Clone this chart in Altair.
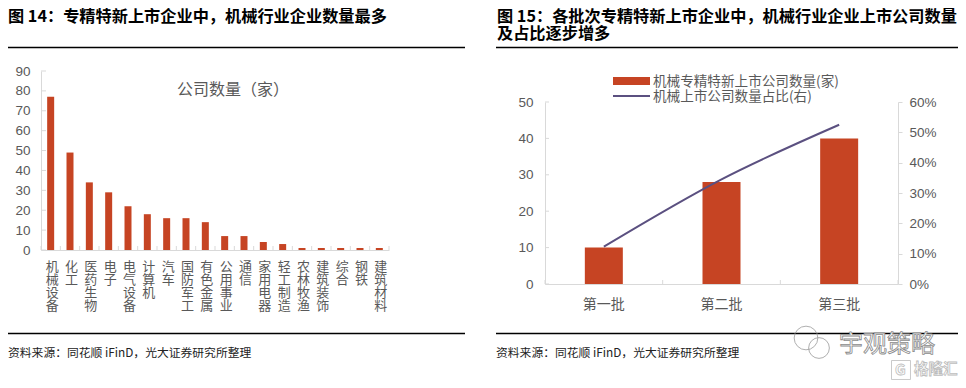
import altair as alt
import pandas as pd

FONT = "Liberation Sans, Noto Sans CJK SC, sans-serif"
CJK = "Noto Sans CJK SC, sans-serif"
GREY = "#595959"
AXIS = "#D9D9D9"
RED = "#C64423"
PURPLE = "#5B5080"

industries = ["机械设备", "化工", "医药生物", "电子", "电气设备", "计算机", "汽车", "国防军工", "有色金属",
              "公用事业", "通信", "家用电器", "轻工制造", "农林牧渔", "建筑装饰", "综合", "钢铁", "建筑材料"]
counts = [77, 49, 34, 29, 22, 18, 16, 16, 14, 7, 7, 4, 3, 1, 1, 1, 1, 1]
left_ticks = [0, 10, 20, 30, 40, 50, 60, 70, 80, 90]

batches = ["第一批", "第二批", "第三批"]
batch_counts = [10, 28, 40]
batch_share = [0.123, 0.345, 0.525]
right_ticks = [0, 10, 20, 30, 40, 50]
share_ticks = [0, 0.1, 0.2, 0.3, 0.4, 0.5, 0.6]

W, H = 950, 372
LX = [33, 381]
LY = [242, 63]
RX = [537, 890]
RY = [276, 94]

lx = alt.Scale(domain=industries, range=LX, paddingInner=0, paddingOuter=0)
ly = alt.Scale(domain=[0, 90], range=LY, nice=False)
lq = alt.Scale(domain=[0, len(industries)], range=LX)
rx = alt.Scale(domain=batches, range=RX, paddingInner=0, paddingOuter=0)
ry = alt.Scale(domain=[0, 50], range=RY, nice=False)
rs = alt.Scale(domain=[0, 0.6], range=RY, nice=False)
rq = alt.Scale(domain=[0, len(batches)], range=RX)

df_l = pd.DataFrame({"行业": industries, "数量": counts})
df_r = pd.DataFrame({"批次": batches, "数量": batch_counts, "占比": batch_share})

base_axis = dict(grid=False, domainColor=AXIS, domainWidth=1, labelColor=GREY, labelFont=FONT,
                 labelFontSize=13.5, title=None)

# left bars
left_bars = alt.Chart(df_l).mark_bar(size=7, color=RED).encode(
    x=alt.X("行业:N", sort=industries, scale=lx,
            axis=alt.Axis(orient="bottom", offset=LY[0] - H, ticks=False, labelAngle=0, labelPadding=10,
                          labelOffset=1.5, labelFontSize=13, labelFont=CJK, labelBaseline="top", labelOverlap=False,
                          labelExpr="split(datum.label, '')", labelLimit=0,
                          **{k: v for k, v in base_axis.items() if k not in ("labelFontSize", "labelFont")})),
    y=alt.Y("数量:Q", scale=ly,
            axis=alt.Axis(orient="left", offset=-LX[0], values=left_ticks, ticks=False, labelPadding=11, **base_axis)),
)
left_yticks = alt.Chart(pd.DataFrame({"v": left_ticks})).mark_rule(color=AXIS).encode(
    y=alt.Y("v:Q", scale=ly, axis=None), x=alt.value(LX[0]), x2=alt.value(LX[0] + 5))
left_xticks = alt.Chart(pd.DataFrame({"i": list(range(len(industries) + 1))})).mark_rule(color=AXIS).encode(
    x=alt.X("i:Q", scale=lq, axis=None), y=alt.value(LY[0] - 4), y2=alt.value(LY[0]))

# right bars + line
right_bars = alt.Chart(df_r).mark_bar(size=38, color=RED).encode(
    x=alt.X("批次:N", sort=batches, scale=rx,
            axis=alt.Axis(orient="bottom", offset=RY[0] - H, ticks=False, labelAngle=0, labelPadding=13,
                          labelBaseline="top", labelFont=CJK, labelFontSize=14,
                          **{k: v for k, v in base_axis.items() if k not in ("labelFontSize", "labelFont")})),
    y=alt.Y("数量:Q", scale=ry,
            axis=alt.Axis(orient="left", offset=-RX[0], values=right_ticks, ticks=False, labelPadding=12, **base_axis)),
)
right_line = alt.Chart(df_r).mark_line(color=PURPLE, strokeWidth=2, interpolate="monotone").encode(
    x=alt.X("批次:N", sort=batches, scale=rx, axis=None),
    y=alt.Y("占比:Q", scale=rs,
            axis=alt.Axis(orient="right", offset=RX[1] - W, values=share_ticks, format=".0%", tickColor=AXIS,
                          tickSize=4, labelPadding=7, **base_axis)),
)
right_yticks = alt.Chart(pd.DataFrame({"v": right_ticks})).mark_rule(color=AXIS).encode(
    y=alt.Y("v:Q", scale=ry, axis=None), x=alt.value(RX[0]), x2=alt.value(RX[0] + 4))
right_xticks = alt.Chart(pd.DataFrame({"i": list(range(len(batches) + 1))})).mark_rule(color=AXIS).encode(
    x=alt.X("i:Q", scale=rq, axis=None), y=alt.value(RY[0] - 4), y2=alt.value(RY[0]))


def label(t, x, y, size, color="#000000", weight="normal", font=CJK, **kw):
    return alt.Chart(pd.DataFrame({"t": [t]})).mark_text(
        align=kw.pop("align", "left"), baseline="middle", fontSize=size, color=color, fontWeight=weight,
        font=font, **kw).encode(x=alt.value(x), y=alt.value(y), text="t:N")


def hline(x0, x1, y, color="#000000", width=1.5):
    return alt.Chart(pd.DataFrame({"a": [0]})).mark_rule(color=color, strokeWidth=width).encode(
        x=alt.value(x0), x2=alt.value(x1), y=alt.value(y))


def ring(x, y, size, color="#9A9A9A", shape="circle"):
    return alt.Chart(pd.DataFrame({"a": [0]})).mark_point(
        shape=shape, filled=False, color=color, strokeWidth=0.8, size=size, opacity=1).encode(
        x=alt.value(x), y=alt.value(y))


texts = [
    label("图 14：专精特新上市企业中，机械行业企业数量最多", 0, 9, 16.2, weight="bold"),
    label("图 15：各批次专精特新上市企业中，机械行业企业上市公司数量", 489, 9, 16.2, weight="bold"),
    label("及占比逐步增多", 489, 26, 16.2, weight="bold"),
    hline(0, 457, 39.5), hline(488, 950, 39.5),
    hline(0, 457, 325.5), hline(488, 950, 325.5),
    label("资料来源：同花顺 iFinD，光大证券研究所整理", 0, 345, 11.8, color="#222222"),
    label("资料来源：同花顺 iFinD，光大证券研究所整理", 488, 345, 11.8, color="#222222"),
    label("公司数量（家）", 225, 82, 16, color=GREY, align="center"),
    hline(605, 642, 73, color=RED, width=8),
    hline(605, 642, 88, color=PURPLE, width=1.8),
    label("机械专精特新上市公司数量(家)", 645, 73.5, 13.6, color=GREY),
    label("机械上市公司数量占比(右)", 645, 88.5, 13.6, color=GREY),
    ring(798, 330, 560), ring(811, 340, 430),
    label("宇观策略", 831, 337, 24, color="#FFFFFF", stroke="#8A8A8A", strokeWidth=0.8),
    ring(893, 362, 360, color="#BDBDBD", shape="square"),
    label("G", 887, 362, 15, color="#FFFFFF", stroke="#BDBDBD", strokeWidth=0.8, weight="bold"),
    label("格隆汇", 906, 362, 14.5, color="#FFFFFF", stroke="#BDBDBD", strokeWidth=0.8, weight="bold"),
]

chart = alt.layer(
    left_xticks, left_yticks, left_bars,
    right_xticks, right_yticks, right_bars, right_line,
    *texts,
).resolve_scale(x="independent", y="independent").properties(
    width=W, height=H, padding=0, autosize=alt.AutoSizeParams(type="none"),
).configure(view=alt.ViewConfig(stroke=None), style={"guide-label": {"lineHeight": 13.2}})

chart.save("out.html", embed_options={"renderer": "svg", "actions": False})
